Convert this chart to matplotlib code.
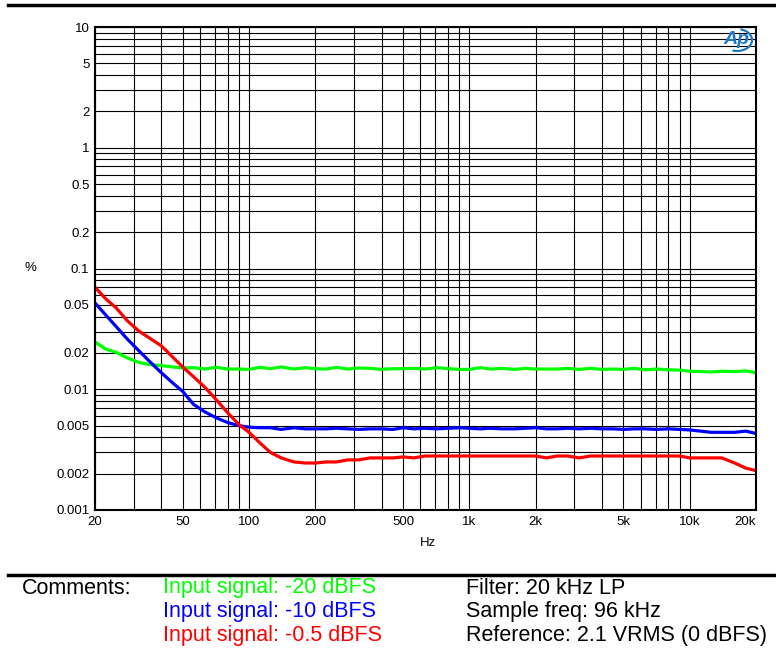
import numpy as np
from matplotlib import pyplot as plt
from matplotlib.patches import Arc
from matplotlib.ticker import FixedLocator, NullFormatter

plt.rcParams['font.family'] = ['Liberation Sans', 'DejaVu Sans']

freq = [20, 22.4, 25, 28, 31.5, 35.5, 40, 45, 50, 56, 63, 71, 80, 90,
        100, 112, 125, 140, 160, 180, 200, 224, 250, 280, 315, 355, 400, 450,
        500, 560, 630, 710, 800, 900, 1000, 1120, 1250, 1400, 1600, 1800,
        2000, 2240, 2500, 2800, 3150, 3550, 4000, 4500, 5000, 5600, 6300,
        7100, 8000, 9000, 10000, 11200, 12500, 14000, 16000, 18000, 20000]

thd_m20 = [0.0246, 0.0215, 0.0202, 0.0182, 0.0167, 0.0160, 0.0157, 0.0153,
           0.0150, 0.0151, 0.0147, 0.0152, 0.0147, 0.0147, 0.0146, 0.0152,
           0.0148, 0.0153, 0.0147, 0.0151, 0.0148, 0.0147, 0.0152, 0.0147,
           0.0150, 0.0149, 0.0146, 0.0148, 0.0148, 0.0149, 0.0147, 0.0151,
           0.0148, 0.0146, 0.0146, 0.0151, 0.0147, 0.0149, 0.0146, 0.0149,
           0.0147, 0.0147, 0.0147, 0.0149, 0.0146, 0.0149, 0.0146, 0.0147,
           0.0146, 0.0149, 0.0145, 0.0147, 0.0145, 0.0144, 0.0141, 0.0140,
           0.0139, 0.0141, 0.0140, 0.0142, 0.0137]

thd_m10 = [0.0518, 0.0411, 0.0329, 0.0261, 0.0210, 0.0169, 0.0137, 0.0113,
           0.0096, 0.0075, 0.0065, 0.0058, 0.0053, 0.0050, 0.00485, 0.0048,
           0.0048, 0.00465, 0.0048, 0.0047, 0.0047, 0.0047, 0.00475, 0.0047,
           0.00465, 0.0047, 0.0047, 0.00465, 0.0048, 0.0047, 0.00475, 0.0047,
           0.00475, 0.0048, 0.00475, 0.0047, 0.00475, 0.0047, 0.0047, 0.00475,
           0.0048, 0.0047, 0.0047, 0.00475, 0.0047, 0.00475, 0.0047, 0.0047,
           0.00465, 0.0047, 0.0047, 0.00465, 0.0047, 0.00465, 0.0046, 0.0045,
           0.0044, 0.0044, 0.0044, 0.0045, 0.0043]

thd_m05 = [0.0700, 0.0560, 0.0470, 0.0370, 0.0305, 0.0264, 0.0229, 0.0185,
           0.0153, 0.0127, 0.0104, 0.0082, 0.0064, 0.0051, 0.0044, 0.0036,
           0.0030, 0.0027, 0.0025, 0.00245, 0.00245, 0.0025, 0.0025, 0.0026,
           0.0026, 0.0027, 0.0027, 0.0027, 0.00275, 0.0027, 0.0028, 0.0028,
           0.0028, 0.0028, 0.0028, 0.0028, 0.0028, 0.0028, 0.0028, 0.0028,
           0.0028, 0.0027, 0.0028, 0.0028, 0.0027, 0.0028, 0.0028, 0.0028,
           0.0028, 0.0028, 0.0028, 0.0028, 0.0028, 0.0028, 0.0027, 0.0027,
           0.0027, 0.0027, 0.00245, 0.00222, 0.00212]

series = [('#00ff00', thd_m20), ('#0000ff', thd_m10), ('#ff0000', thd_m05)]

x_ticks = [20, 50, 100, 200, 500, 1000, 2000, 5000, 10000, 20000]
x_labels = ['20', '50', '100', '200', '500', '1k', '2k', '5k', '10k', '20k']
y_ticks = [10, 5, 2, 1, 0.5, 0.2, 0.1, 0.05, 0.02, 0.01, 0.005, 0.002, 0.001]
y_labels = ['10', '5', '2', '1', '0.5', '0.2', '0.1', '0.05', '0.02', '0.01',
            '0.005', '0.002', '0.001']

comments = [('Input signal: -20 dBFS', '#00ff00'),
            ('Input signal: -10 dBFS', '#0000ff'),
            ('Input signal: -0.5 dBFS', '#ff0000')]
notes = ['Filter: 20 kHz LP', 'Sample freq: 96 kHz',
         'Reference: 2.1 VRMS (0 dBFS)']


def main():
    fig = plt.figure(figsize=(7.76, 6.54), dpi=100)
    W, H = 776, 654
    ax = fig.add_axes([95 / W, 1 - 510 / H, 661 / W, 483 / H])
    ax.set_xscale('log')
    ax.set_yscale('log')
    ax.set_xlim(20, 20000)
    ax.set_ylim(0.001, 10)

    # grid on every 1..9 step of each decade
    ax.xaxis.set_minor_locator(FixedLocator(
        [m * 10 ** d for d in range(1, 5) for m in range(1, 10)]))
    ax.yaxis.set_minor_locator(FixedLocator(
        [m * 10.0 ** d for d in range(-3, 1) for m in range(1, 10)]))
    ax.xaxis.set_minor_formatter(NullFormatter())
    ax.yaxis.set_minor_formatter(NullFormatter())
    ax.grid(True, which='both', color='black', lw=0.8)
    ax.set_axisbelow(True)

    ax.set_xticks(x_ticks)
    ax.set_xticklabels(x_labels)
    ax.set_yticks(y_ticks)
    ax.set_yticklabels(y_labels)
    ax.tick_params(which='both', length=0, labelsize=9.5, pad=4)
    ax.get_xticklabels()[-1].set_ha('right')
    for s in ax.spines.values():
        s.set_linewidth(1.5)

    for color, vals in series:
        ax.plot(freq, vals, color=color, lw=2.3, solid_joinstyle='round')

    fig.text(30 / W, 1 - 268 / H, '%', fontsize=9.5, ha='center', va='center')
    fig.text(428 / W, 1 - 543 / H, 'Hz', fontsize=9.5, ha='center', va='center')

    # Ap logo
    fig.text(736 / W, 1 - 40 / H, 'Ap', fontsize=14, color='#1f78c1',
             style='italic', fontweight='bold', ha='center', va='center')
    fig.add_artist(Arc((737 / W, 1 - 40 / H), 30 / W, 22 / H,
                       theta1=-110, theta2=75, color='#1f78c1', lw=1.6,
                       transform=fig.transFigure))

    # border lines top and bottom
    fig.add_artist(plt.Line2D([8 / W, 1], [1 - 5 / H, 1 - 5 / H],
                              color='black', lw=2.5))
    fig.add_artist(plt.Line2D([8 / W, 1], [1 - 575 / H, 1 - 575 / H],
                              color='black', lw=2.5))

    fig.text(22 / W, 1 - 588 / H, 'Comments:', fontsize=15.5, va='center')
    for i, (txt, col) in enumerate(comments):
        fig.text(163 / W, 1 - (588 + 23.5 * i) / H, txt, fontsize=15.5,
                 color=col, va='center')
    for i, txt in enumerate(notes):
        fig.text(466 / W, 1 - (588 + 23.5 * i) / H, txt, fontsize=15.5,
                 color='black', va='center')

    fig.savefig('out.png', dpi=100)


if __name__ == "__main__":
    main()
